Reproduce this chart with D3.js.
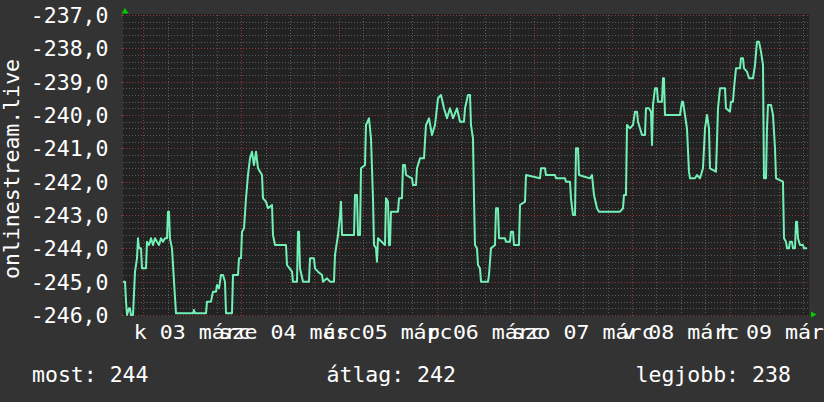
<!DOCTYPE html>
<html>
<head>
<meta charset="utf-8">
<script src="https://cdn.jsdelivr.net/npm/d3@7"></script>
<style>
  html, body { margin: 0; padding: 0; background: #333333; }
  svg { display: block; }
  text { font-family: "DejaVu Sans Mono", monospace; fill: #ffffff; }
</style>
</head>
<body>
<svg id="chart" width="824" height="402"></svg>
<script>
// ---- data ----
// hours since 2026-03-02 19:00 UTC
const hours = [0,0.49,0.74,0.98,1.47,1.72,1.96,2.46,2.95,3.44,3.68,3.93,4.42,4.67,5.65,5.89,6.39,6.88,7.37,7.86,8.35,8.84,9.33,9.82,10.32,10.81,11.05,11.30,11.54,12.03,12.53,13.02,17.19,17.44,17.68,20.39,20.63,21.61,22.10,22.84,23.09,23.58,24.07,24.56,25.05,25.30,26.77,27.02,28.25,28.49,28.98,29.23,29.72,30.21,30.70,31.19,31.68,32.17,32.67,33.16,34.14,34.39,35.12,35.61,36.60,36.84,37.33,40.03,40.28,41.51,41.75,42.74,42.98,43.23,43.47,44.21,45.68,45.93,46.91,47.16,47.89,48.88,49.12,50.10,50.84,51.82,52.07,52.81,53.30,53.54,53.79,56.74,56.98,57.47,57.72,58.21,58.46,59.44,59.68,60.42,60.91,61.40,61.65,62.14,62.38,62.63,64.35,64.60,65.09,65.33,65.58,65.82,67.54,67.79,68.52,68.77,69.26,69.51,70.98,71.23,71.96,72.21,72.95,73.93,74.17,74.42,75.16,75.89,76.63,77.37,78.10,78.84,79.58,80.31,81.05,82.03,82.77,83.75,84.00,84.74,85.23,85.47,85.96,86.21,86.45,86.95,87.19,87.68,87.93,89.65,89.89,90.38,91.37,91.61,92.10,92.35,93.82,94.07,95.05,95.30,95.79,96.03,97.26,97.51,98.74,98.98,102.42,102.66,103.65,103.89,106.10,106.35,108.56,108.81,109.79,110.03,110.52,111.02,111.26,111.75,112.00,114.70,115.19,115.68,116.42,116.91,122.07,122.81,123.05,123.54,123.79,124.52,125.26,125.75,126.24,126.49,126.98,127.47,128.21,128.45,129.19,129.68,129.93,130.17,130.67,131.15,131.40,132.38,132.63,132.87,133.12,136.80,137.29,137.54,138.03,138.52,139.01,139.26,140.49,140.98,141.72,142.45,142.95,143.44,143.93,144.17,145.64,145.89,146.14,146.63,147.86,148.10,149.08,149.33,149.82,150.07,150.56,151.54,151.78,152.28,152.52,153.26,153.75,154.73,155.23,155.72,156.21,156.70,157.19,157.44,157.93,158.17,158.42,159.16,159.65,160.14,160.39,162.10,162.35,162.84,163.09,163.58,163.82,164.31,164.56,165.05,165.30,165.54,165.79,166.28,167.01,167.26,168.00];
const values = [-245.0,-245.0,-245.6,-246.0,-245.8,-245.8,-246.0,-246.0,-244.7,-244.3,-243.7,-244.0,-244.0,-244.6,-244.6,-243.8,-243.9,-243.7,-243.9,-243.7,-243.8,-243.9,-243.7,-243.8,-243.7,-243.7,-242.9,-242.9,-243.7,-244.0,-245.0,-245.95,-245.95,-245.85,-245.95,-245.95,-245.6,-245.6,-245.3,-245.3,-245.1,-245.2,-244.8,-244.8,-245.0,-245.95,-245.95,-244.8,-244.8,-244.3,-244.3,-243.5,-243.4,-242.5,-241.8,-241.3,-241.1,-241.5,-241.1,-241.6,-241.8,-242.5,-242.6,-242.8,-242.7,-243.6,-243.9,-243.9,-244.5,-244.7,-245.0,-245.0,-243.5,-243.5,-244.6,-245.0,-245.0,-244.3,-244.3,-244.6,-244.7,-244.8,-245.0,-244.9,-245.0,-245.0,-244.2,-243.6,-243.0,-242.6,-243.6,-243.6,-242.4,-242.4,-243.6,-243.6,-241.6,-241.5,-240.3,-240.1,-240.7,-242.5,-243.9,-244.0,-244.4,-243.7,-243.9,-242.5,-242.6,-243.9,-243.9,-242.9,-242.9,-242.5,-242.5,-241.5,-241.5,-241.8,-241.9,-242.1,-242.1,-241.6,-241.3,-241.3,-240.8,-240.3,-240.1,-240.6,-240.3,-239.5,-239.4,-239.8,-240.1,-239.8,-240.1,-239.8,-240.2,-240.2,-239.8,-239.4,-239.4,-240.3,-240.7,-242.5,-243.9,-244.0,-244.5,-244.6,-245.0,-245.0,-244.8,-244.0,-243.9,-242.8,-242.8,-243.7,-243.7,-243.8,-243.8,-243.5,-243.5,-243.9,-243.9,-242.7,-242.6,-241.8,-241.9,-241.6,-241.6,-241.8,-241.8,-241.9,-241.9,-242.0,-242.0,-242.5,-243.0,-243.0,-241.0,-241.0,-241.8,-241.9,-241.8,-242.4,-242.8,-242.9,-242.9,-242.8,-242.4,-242.4,-240.3,-240.4,-240.3,-239.9,-239.9,-240.2,-240.4,-240.6,-240.6,-239.8,-239.8,-239.9,-240.9,-239.7,-239.2,-239.2,-239.6,-239.6,-238.9,-238.9,-240.0,-240.0,-239.6,-239.6,-240.0,-240.4,-241.7,-241.9,-241.9,-241.8,-241.9,-241.6,-240.4,-240.0,-240.4,-241.6,-241.7,-240.8,-239.8,-239.2,-239.2,-239.8,-239.9,-239.6,-239.6,-239.2,-238.6,-238.6,-238.3,-238.3,-238.6,-238.7,-238.9,-238.9,-238.5,-237.8,-237.8,-238.1,-238.5,-241.9,-241.9,-240.4,-239.7,-239.7,-240.0,-241.0,-241.9,-242.0,-243.7,-243.8,-244.0,-244.0,-243.8,-243.8,-244.0,-244.0,-243.2,-243.2,-243.7,-243.9,-243.9,-244.0,-244.0];
const dayLabels = ["k 03 márc", "sze 04 márc", "cs 05 márc", "p 06 márc", "szo 07 márc", "v 08 márc", "h 09 márc"];
const yTickValues = [-246, -245, -244, -243, -242, -241, -240, -239, -238, -237];
const yTitle = "onlinestream.live";
const legendItems = ["most: 244", "átlag: 242", "legjobb: 238"];

// ---- layout ----
const start = new Date(Date.UTC(2026, 2, 2, 19));
const end = new Date(Date.UTC(2026, 2, 9, 19));
const L = 123, R = 807, T = 15, B = 315, plotRight = 809;

const svg = d3.select("#chart");
svg.append("rect").attr("width", 824).attr("height", 402).attr("fill", "#333333");
svg.append("rect").attr("x", L).attr("y", T - 1).attr("width", plotRight - L).attr("height", B - T + 2).attr("fill", "#222222");

const x = d3.scaleUtc().domain([start, end]).range([L, R]);
const y = d3.scaleLinear().domain([-246, -237]).range([B, T]);

const grid = svg.append("g");
// horizontal minor grid (every 0.2)
const minorY = d3.range(0, 46).map(i => -246 + i * 0.2).filter(v => Math.abs(v - Math.round(v)) > 1e-6);
grid.selectAll("line.hmin").data(minorY).join("line")
  .attr("x1", L).attr("x2", plotRight)
  .attr("y1", d => Math.round(y(d)) + 0.5).attr("y2", d => Math.round(y(d)) + 0.5)
  .attr("stroke", "#5a5a5a").attr("stroke-dasharray", "1,2");
// vertical minor grid (every 6h)
const sixH = d3.utcHour.every(6).range(start, new Date(+end + 1));
const minorX = sixH.filter(d => d.getUTCHours() !== 0);
const majorX = sixH.filter(d => d.getUTCHours() === 0);
grid.selectAll("line.vmin").data(minorX).join("line")
  .attr("x1", d => Math.round(x(d)) + 0.5).attr("x2", d => Math.round(x(d)) + 0.5)
  .attr("y1", T).attr("y2", B)
  .attr("stroke", "#5a5a5a").attr("stroke-dasharray", "1,2");
// major grids
grid.selectAll("line.hmaj").data(yTickValues).join("line")
  .attr("x1", L).attr("x2", plotRight)
  .attr("y1", d => Math.round(y(d)) + 0.5).attr("y2", d => Math.round(y(d)) + 0.5)
  .attr("stroke", "#8a3a3a").attr("stroke-dasharray", "1,2");
grid.selectAll("line.vmaj").data(majorX).join("line")
  .attr("x1", d => Math.round(x(d)) + 0.5).attr("x2", d => Math.round(x(d)) + 0.5)
  .attr("y1", T).attr("y2", B + 3)
  .attr("stroke", "#8a3a3a").attr("stroke-dasharray", "1,2");
// small ticks
grid.selectAll("line.ytick").data(yTickValues).join("line")
  .attr("x1", L - 2).attr("x2", L)
  .attr("y1", d => Math.round(y(d)) + 0.5).attr("y2", d => Math.round(y(d)) + 0.5)
  .attr("stroke", "#8a3a3a");

// data line
const data = hours.map((h, i) => ({ t: new Date(+start + h * 3600e3), v: values[i] }));
const line = d3.line().x(d => x(d.t)).y(d => y(d.v));
svg.append("path").datum(data)
  .attr("d", line)
  .attr("fill", "none")
  .attr("stroke", "#72f0b6")
  .attr("stroke-width", 2)
  .attr("stroke-linejoin", "round");

// y labels
const fmt = v => d3.format(".1f")(v).replace(".", ",").replace("−", "-");
svg.append("g").selectAll("text").data(yTickValues).join("text")
  .attr("x", 108.5).attr("y", d => y(d) + 8)
  .attr("text-anchor", "end")
  .attr("font-size", "21.5px")
  .text(fmt);

// x labels (centered at noon)
const noons = dayLabels.map((lab, i) => ({ lab, t: new Date(Date.UTC(2026, 2, 3 + i, 12)) }));
svg.append("g").selectAll("text").data(noons).join("text")
  .attr("transform", d => `translate(${x(d.t)},339) scale(1.08,1)`)
  .attr("text-anchor", "middle")
  .attr("font-size", "20px")
  .text(d => d.lab);

// y title
svg.append("text")
  .attr("transform", "translate(18.5,169) rotate(-90)")
  .attr("text-anchor", "middle")
  .attr("font-size", "21.5px")
  .text(yTitle);

// legend
const legendX = [32, 326.5, 635.5];
svg.append("g").selectAll("text").data(legendItems).join("text")
  .attr("x", (d, i) => legendX[i]).attr("y", 382)
  .attr("font-size", "21.5px")
  .text(d => d);

// arrows
svg.append("path").attr("d", `M${L - 1.5},13.5 L${L + 5.5},13.5 L${L + 2},8 Z`).attr("fill", "#00cc00");
svg.append("path").attr("d", `M811,311.5 L811,317.5 L816.5,314.5 Z`).attr("fill", "#00cc00");
</script>
</body>
</html>
